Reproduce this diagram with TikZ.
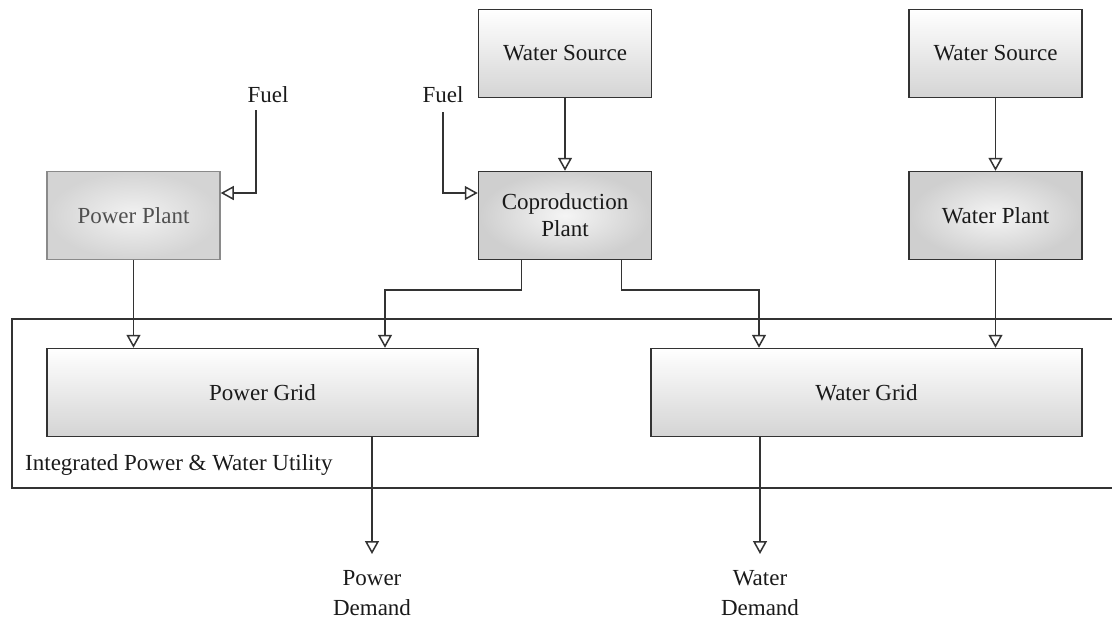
\documentclass[tikz,border=0pt]{standalone}
\usepackage{fontspec}
\setmainfont{Liberation Serif}
\usetikzlibrary{arrows.meta}
\definecolor{linec}{HTML}{333333}
\definecolor{txt}{HTML}{1A1A1A}
\definecolor{edgeg}{HTML}{D4D4D4}
\definecolor{fadeline}{HTML}{8A8A8A}
\definecolor{fadetxt}{HTML}{505050}
\begin{document}
\begin{tikzpicture}[x=1pt,y=-1pt,
  box/.style={draw=linec, line width=1.5pt, inner sep=0pt, align=center,
    font=\fontsize{23}{27}\selectfont, text=txt},
  smallbox/.style={box, minimum width=173pt, minimum height=88pt},
  bigbox/.style={box, minimum width=431pt, minimum height=88pt},
  vshade/.style={top color=white, bottom color=edgeg},
  rshade/.style={inner color=white!96!black, outer color=black!19},
  faded/.style={draw=fadeline, text=fadetxt, inner color=white!95!black, outer color=black!17},
  lbl/.style={font=\fontsize{23}{30}\selectfont, text=txt, align=center, inner sep=0pt},
  conn/.style={draw=linec, line width=1.5pt, -{Triangle[open, length=13pt, width=14pt]}},
  plain/.style={draw=linec, line width=1.5pt}
]
\useasboundingbox (0,0) rectangle (1112,619);

% container
\draw[plain] (1114,319) -- (12,319) -- (12,488) -- (1114,488);
\node[lbl, anchor=west] (util) at (25,465) {Integrated Power \& Water Utility};

% boxes
\node[smallbox, faded] (pp) at (133.5,215.5) {Power Plant};
\node[smallbox, vshade] (ws1) at (565,53.5) {Water Source};
\node[smallbox, rshade] (cp) at (565,215.5) {Coproduction\\Plant};
\node[smallbox, vshade] (ws2) at (995.5,53.5) {Water Source};
\node[smallbox, rshade] (wp) at (995.5,215.5) {Water Plant};
\node[bigbox, vshade] (pg) at (262.5,392.5) {Power Grid};
\node[bigbox, vshade] (wg) at (866.5,392.5) {Water Grid};

% labels
\node[lbl] (fuel1) at (268,95) {Fuel};
\node[lbl] (fuel2) at (443,95) {Fuel};
\node[lbl] (pd) at (372,593) {Power\\Demand};
\node[lbl] (wd) at (760,593) {Water\\Demand};

% connector coordinates
\coordinate (f1) at (256,110);
\coordinate (f2) at (443,112);
\coordinate (pdt) at (372,554);
\coordinate (wdt) at (760,554);

% connectors
\draw[conn] (f1) |- (pp.east |- 0,193);
\draw[conn] (f2) |- (cp.west |- 0,193);
\draw[conn] (ws1.south) -- (cp.north);
\draw[conn] (ws2.south) -- (wp.north);
\draw[conn] (pp.south) -- (pg.north -| pp.south);
\draw[conn] (cp.south -| 521.5,0) -- (521.5,290) -| (pg.north -| 385,0);
\draw[conn] (cp.south -| 621.5,0) -- (621.5,290) -| (wg.north -| 759,0);
\draw[conn] (wp.south) -- (wg.north -| wp.south);
\draw[conn] (pg.south -| pdt) -- (pdt);
\draw[conn] (wg.south -| wdt) -- (wdt);
\end{tikzpicture}
\end{document}
